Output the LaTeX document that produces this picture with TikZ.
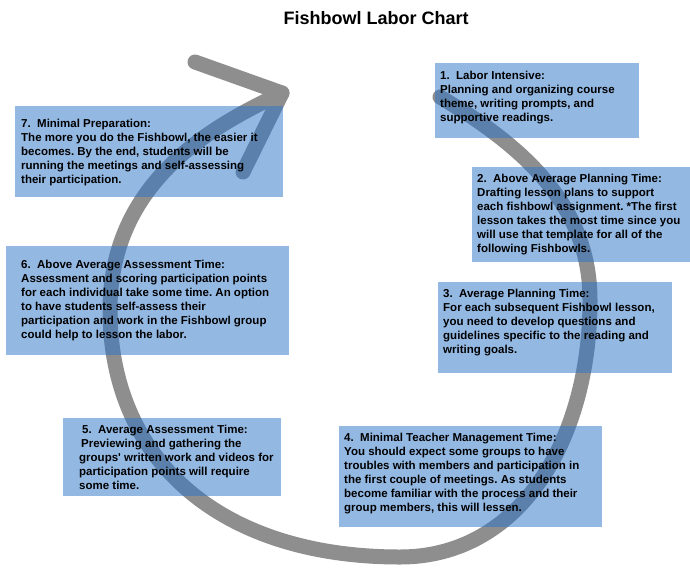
\documentclass[tikz,border=0pt]{standalone}
\usepackage{fontspec}
\setmainfont{Liberation Sans}
\frenchspacing
\usetikzlibrary{calc, positioning}
\definecolor{loopgray}{RGB}{142,142,142}
\definecolor{boxblue}{RGB}{40,115,200}

\begin{document}
\begin{tikzpicture}[
    x=1pt, y=-1pt,   % one unit is one pixel of the chart, y runs down
    loopline/.style={draw=loopgray, line width=15pt, line cap=round, line join=round},
    labbox/.style={
        fill=boxblue,
        fill opacity=0.5,   % let the grey loop show through
        anchor=north west,
        inner sep=0pt
    },
    labtext/.style={
        anchor=west,
        inner sep=0pt,
        align=left,
        font=\fontsize{11.5}{14}\selectfont\bfseries
    },
  ]
  \useasboundingbox (0,0) rectangle (690,568);

  \node[font=\fontsize{18}{22}\selectfont\bfseries] (title) at (376,18) {Fishbowl Labor Chart};

  % the loop, going round clockwise, with its open head
  \coordinate (tip) at (282,93);
  \coordinate (barbA) at (195,62);
  \coordinate (barbB) at (243,172);
  \draw[loopline] (440,97) .. controls (530,150) and (590,210) .. (590,300)
    .. controls (590,440) and (520,557) .. (400,557)
    .. controls (220,557) and (110,460) .. (110,310)
    .. controls (110,180) and (215,125) .. (tip);
  \draw[loopline] (barbA) -- (tip) -- (barbB);

  % boxes
  \node[labbox, minimum width=204pt, minimum height=75pt] (b1) at (435,63) {};
  \node[labbox, minimum width=218pt, minimum height=95pt] (b2) at (472,167) {};
  \node[labbox, minimum width=234pt, minimum height=91pt] (b3) at (438,282) {};
  \node[labbox, minimum width=263pt, minimum height=101pt] (b4) at (339,426) {};
  \node[labbox, minimum width=218pt, minimum height=78pt] (b5) at (63,418) {};
  \node[labbox, minimum width=283pt, minimum height=109pt] (b6) at (6,246) {};
  \node[labbox, minimum width=268pt, minimum height=91pt] (b7) at (15,106) {};

  % texts
  \node[labtext, yshift=3pt] (t1) at ([xshift=5pt]b1.west) {1.\ \ Labor Intensive:\\
    Planning and organizing course\\
    theme, writing prompts, and\\
    supportive readings.};
  \node[labtext] (t2) at ([xshift=5pt]b2.west) {2.\ \ Above Average Planning Time:\\
    Drafting lesson plans to support\\
    each fishbowl assignment. *The first\\
    lesson takes the most time since you\\
    will use that template for all of the\\
    following Fishbowls.};
  \node[labtext, yshift=5pt] (t3) at ([xshift=5pt]b3.west) {3.\ \ Average Planning Time:\\
    For each subsequent Fishbowl lesson,\\
    you need to develop questions and\\
    guidelines specific to the reading and\\
    writing goals.};
  \node[labtext, yshift=3pt] (t4) at ([xshift=5pt]b4.west) {4.\ \ Minimal Teacher Management Time:\\
    You should expect some groups to have\\
    troubles with members and participation in\\
    the first couple of meetings. As students\\
    become familiar with the process and their\\
    group members, this will lessen.};
  \node[labtext] (t5) at ([xshift=16pt]b5.west) {\hspace*{3pt}5.\ \ Average Assessment Time:\\
    \hspace*{2pt}Previewing and gathering the\\
    groups\textquotesingle\ written work and videos for\\
    participation points will require\\
    some time.};
  \node[labtext] (t6) at ([xshift=15pt]b6.west) {6.\ \ Above Average Assessment Time:\\
    Assessment and scoring participation points\\
    for each individual take some time. An option\\
    to have students self-assess their\\
    participation and work in the Fishbowl group\\
    could help to lesson the labor.};
  \node[labtext, yshift=-1pt] (t7) at ([xshift=6pt]b7.west) {7.\ \ Minimal Preparation:\\
    The more you do the Fishbowl, the easier it\\
    becomes. By the end, students will be\\
    running the meetings and self-assessing\\
    their participation.};
\end{tikzpicture}
\end{document}
